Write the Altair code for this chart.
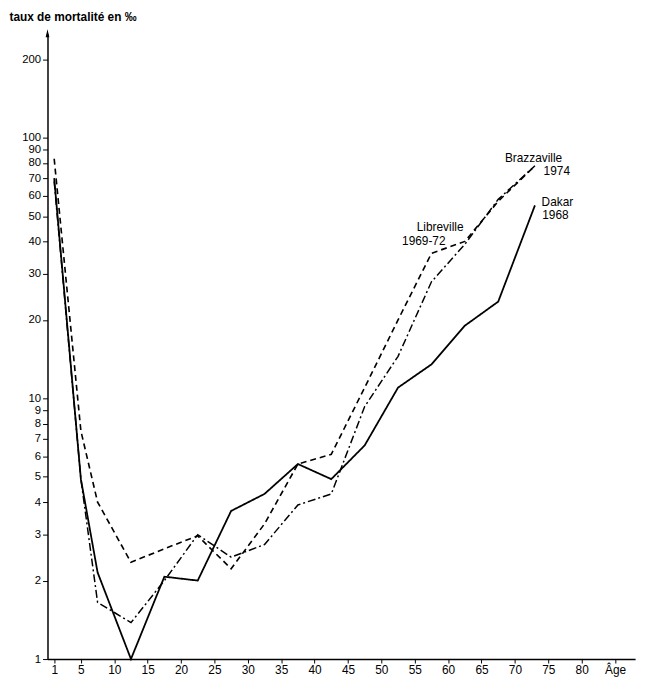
import altair as alt
import pandas as pd

# ---- data ----
ages = [1, 5, 7.5, 12.5, 17.5, 22.5, 27.5, 32.5, 37.5, 42.5, 47.5, 52.5, 57.5, 62.5, 67.5, 73]
dakar = [70, 4.9, 2.15, 1.0, 2.07, 2.0, 3.7, 4.3, 5.6, 4.9, 6.6, 11, 13.5, 19, 23.5, 55]
libreville = [83, 7.5, 4.0, 2.35, 2.65, 2.97, 2.22, 3.3, 5.6, 6.1, 11, 20, 36, 40, 57, 78]
brazzaville = [68, 4.9, 1.65, 1.38, 2.0, 3.0, 2.46, 2.75, 3.9, 4.3, 9.3, 14.5, 28, 39, 58, 78]

series_names = ["Dakar 1968", "Libreville 1969-72", "Brazzaville 1974"]

x_ticks = [1, 5, 10, 15, 20, 25, 30, 35, 40, 45, 50, 55, 60, 65, 70, 75, 80, 85]
y_ticks = [1, 2, 3, 4, 5, 6, 7, 8, 9, 10, 20, 30, 40, 50, 60, 70, 80, 90, 100, 200]

label_texts = ["Brazzaville", "1974", "Dakar", "1968", "Libreville", "1969-72"]
label_ages = [68.5, 74.3, 74.0, 74.1, 55.3, 53.1]
label_vals = [83.5, 74.3, 56.8, 50.7, 45.6, 40.0]

rows = []
for name, vals in zip(series_names, [dakar, libreville, brazzaville]):
    for a, v in zip(ages, vals):
        rows.append({"age": a, "taux": v, "serie": name})
df = pd.DataFrame(rows)

labels_df = pd.DataFrame({"age": label_ages, "taux": label_vals, "txt": label_texts})

FONT = "Liberation Sans"

x_scale = alt.Scale(domain=[0, 88], nice=False, zero=False)
y_scale = alt.Scale(type="log", domain=[1, 250], nice=False)

x_axis = alt.Axis(
    values=x_ticks, title=None, grid=False,
    labelExpr="datum.value == 85 ? 'Âge' : datum.label",
    domainColor="black", domainWidth=1.5, tickColor="black", tickSize=4,
    labelColor="black", labelFont=FONT, labelFontSize=12, labelPadding=2,
    labelFlush=False, labelOverlap=False,
)
y_axis = alt.Axis(
    values=y_ticks, format="d", grid=False,
    title="taux de mortalité en ‰", titleAngle=0, titleAlign="left",
    titleBaseline="middle", titleX=-39, titleY=-18, titleFont=FONT,
    titleFontSize=12, titleFontWeight="bold", titleColor="black",
    domainColor="black", domainWidth=1.5, tickColor="black", tickSize=5,
    labelColor="black", labelFont=FONT, labelFontSize=11.5, labelPadding=2,
    labelOverlap=False, labelFlush=False,
)

lines = alt.Chart(df).mark_line(color="black").encode(
    x=alt.X("age:Q", scale=x_scale, axis=x_axis),
    y=alt.Y("taux:Q", scale=y_scale, axis=y_axis),
    strokeDash=alt.StrokeDash(
        "serie:N",
        scale=alt.Scale(domain=series_names, range=[[1, 0], [6, 4], [8, 3, 2, 3]]),
        legend=None,
    ),
    strokeWidth=alt.StrokeWidth(
        "serie:N",
        scale=alt.Scale(domain=series_names, range=[1.8, 1.5, 1.4]),
        legend=None,
    ),
    detail="serie:N",
)

texts = alt.Chart(labels_df).mark_text(
    align="left", baseline="middle", font=FONT, fontSize=12, color="black"
).encode(
    x=alt.X("age:Q", scale=x_scale, axis=x_axis),
    y=alt.Y("taux:Q", scale=y_scale, axis=y_axis),
    text="txt:N",
)

arrow = alt.Chart(pd.DataFrame({"a": [0]})).mark_point(
    shape="M0,-1L0.4,0.7L-0.4,0.7Z", filled=True, color="black", size=90, opacity=1
).encode(
    x=alt.X(datum=0, scale=x_scale, axis=x_axis),
    y=alt.Y(datum=250, scale=y_scale, axis=y_axis),
)

chart = alt.layer(lines, texts, arrow).properties(
    width=595,
    height=633,
    autosize=alt.AutoSizeParams(type="none"),
    padding={"left": 40, "top": 22, "right": 8, "bottom": 22},
).configure_view(stroke=None)

chart.save("out.html", embed_options={"renderer": "svg", "actions": False})
